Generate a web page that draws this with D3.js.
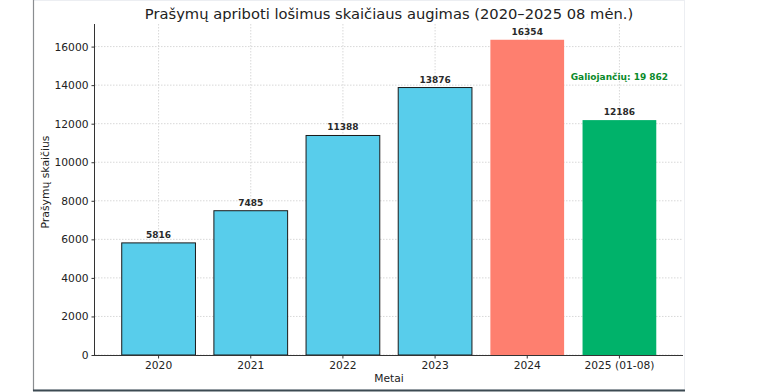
<!DOCTYPE html>
<html>
<head>
<meta charset="utf-8">
<script src="https://cdn.jsdelivr.net/npm/d3@7"></script>
<style>
  body { margin: 0; background: #fff; }
  svg { display: block; font-family: "DejaVu Sans", sans-serif; }
</style>
</head>
<body>
<div id="chart"></div>
<script>
// data
const years = ["2020", "2021", "2022", "2023", "2024", "2025 (01-08)"];
const counts = [5816, 7485, 11388, 13876, 16354, 12186];
const barColors = ["#58cdeb", "#58cdeb", "#58cdeb", "#58cdeb", "#fe7f6f", "#00b26a"];
const barEdges = ["#1a1a1a", "#1a1a1a", "#1a1a1a", "#1a1a1a", "none", "none"];
const yTicks = [0, 2000, 4000, 6000, 8000, 10000, 12000, 14000, 16000];
const note = {cat: "2025 (01-08)", y: 14250, text: "Galiojančių: 19 862"};

const W = 760, H = 392;
const margin = {top: 24, right: 77, bottom: 37, left: 95};
const w = W - margin.left - margin.right,
      h = H - margin.top - margin.bottom;

const svg = d3.select("#chart").append("svg")
    .attr("width", W).attr("height", H);

// frame of the pasted picture
svg.append("rect").attr("x", 33.5).attr("y", 0.5).attr("width", 651).attr("height", 389)
    .attr("fill", "none").attr("stroke", "#eceef2");
svg.append("line").attr("x1", 33.5).attr("x2", 33.5).attr("y1", 0).attr("y2", 391)
    .attr("stroke", "#8a8d90").attr("stroke-width", 1.2);
svg.append("line").attr("x1", 33).attr("x2", 685).attr("y1", 390.5).attr("y2", 390.5)
    .attr("stroke", "#3c4a52").attr("stroke-width", 2);

const g = svg.append("g").attr("transform", `translate(${margin.left},${margin.top})`);

// matplotlib-like band: width 0.8, 5% margins
const x = d3.scaleBand().domain(years).range([0, w]).paddingInner(0.2).paddingOuter(0.29);
const y = d3.scaleLinear().domain([0, 16354 * 1.05]).range([h, 0]);

// grid
g.append("g").selectAll("line").data(yTicks).join("line")
    .attr("x1", 0).attr("x2", w)
    .attr("y1", d => y(d)).attr("y2", d => y(d))
    .attr("stroke", "#d8d8d8").attr("stroke-dasharray", "1.5,1.5");
g.append("g").selectAll("line").data(years).join("line")
    .attr("x1", d => x(d) + x.bandwidth() / 2).attr("x2", d => x(d) + x.bandwidth() / 2)
    .attr("y1", 0).attr("y2", h)
    .attr("stroke", "#d8d8d8").attr("stroke-dasharray", "1.5,1.5");

// bars
g.selectAll(".bar").data(counts).join("rect")
    .attr("class", "bar")
    .attr("x", (d, i) => x(years[i]))
    .attr("y", d => y(d))
    .attr("width", x.bandwidth())
    .attr("height", d => h - y(d))
    .attr("fill", (d, i) => barColors[i])
    .attr("stroke", (d, i) => barEdges[i])
    .attr("stroke-width", 1);

// value labels
g.selectAll(".val").data(counts).join("text")
    .attr("class", "val")
    .attr("x", (d, i) => x(years[i]) + x.bandwidth() / 2)
    .attr("y", d => y(d) - 5)
    .attr("text-anchor", "middle")
    .attr("font-size", 9).attr("font-weight", "bold").attr("fill", "#2a2a2a")
    .text(d => d);

// note
g.append("text")
    .attr("x", x(note.cat) + x.bandwidth() / 2)
    .attr("y", y(note.y))
    .attr("text-anchor", "middle")
    .attr("font-size", 9).attr("font-weight", "bold").attr("fill", "#0a8a2a")
    .text(note.text);

// axes
const xAxis = g.append("g").attr("transform", `translate(0,${h})`)
    .call(d3.axisBottom(x).tickSize(3.5).tickPadding(3));
const yAxis = g.append("g")
    .call(d3.axisLeft(y).tickValues(yTicks).tickFormat(d3.format("d")).tickSize(3.5).tickPadding(3));
[xAxis, yAxis].forEach(a => {
  a.selectAll("text").attr("font-size", 10.7).attr("fill", "#222").attr("font-family", "DejaVu Sans");
  a.selectAll("line").attr("stroke", "#333");
  a.select(".domain").attr("stroke", "#333").attr("stroke-width", 1);
});
xAxis.select(".domain").attr("d", `M0,0.5H${w}`);
yAxis.select(".domain").attr("d", `M-0.5,0V${h}`);

// labels
svg.append("text")
    .attr("x", margin.left + w / 2).attr("y", H - 10)
    .attr("text-anchor", "middle").attr("font-size", 10.7).attr("fill", "#222")
    .text("Metai");
svg.append("text")
    .attr("transform", `translate(49,182) rotate(-90)`)
    .attr("text-anchor", "middle").attr("font-size", 10.8).attr("fill", "#222")
    .text("Prašymų skaičius");
svg.append("text")
    .attr("x", margin.left + w / 2).attr("y", 19)
    .attr("text-anchor", "middle").attr("font-size", 14.7).attr("fill", "#222")
    .text("Prašymų apriboti lošimus skaičiaus augimas (2020–2025 08 mėn.)");
</script>
</body>
</html>
